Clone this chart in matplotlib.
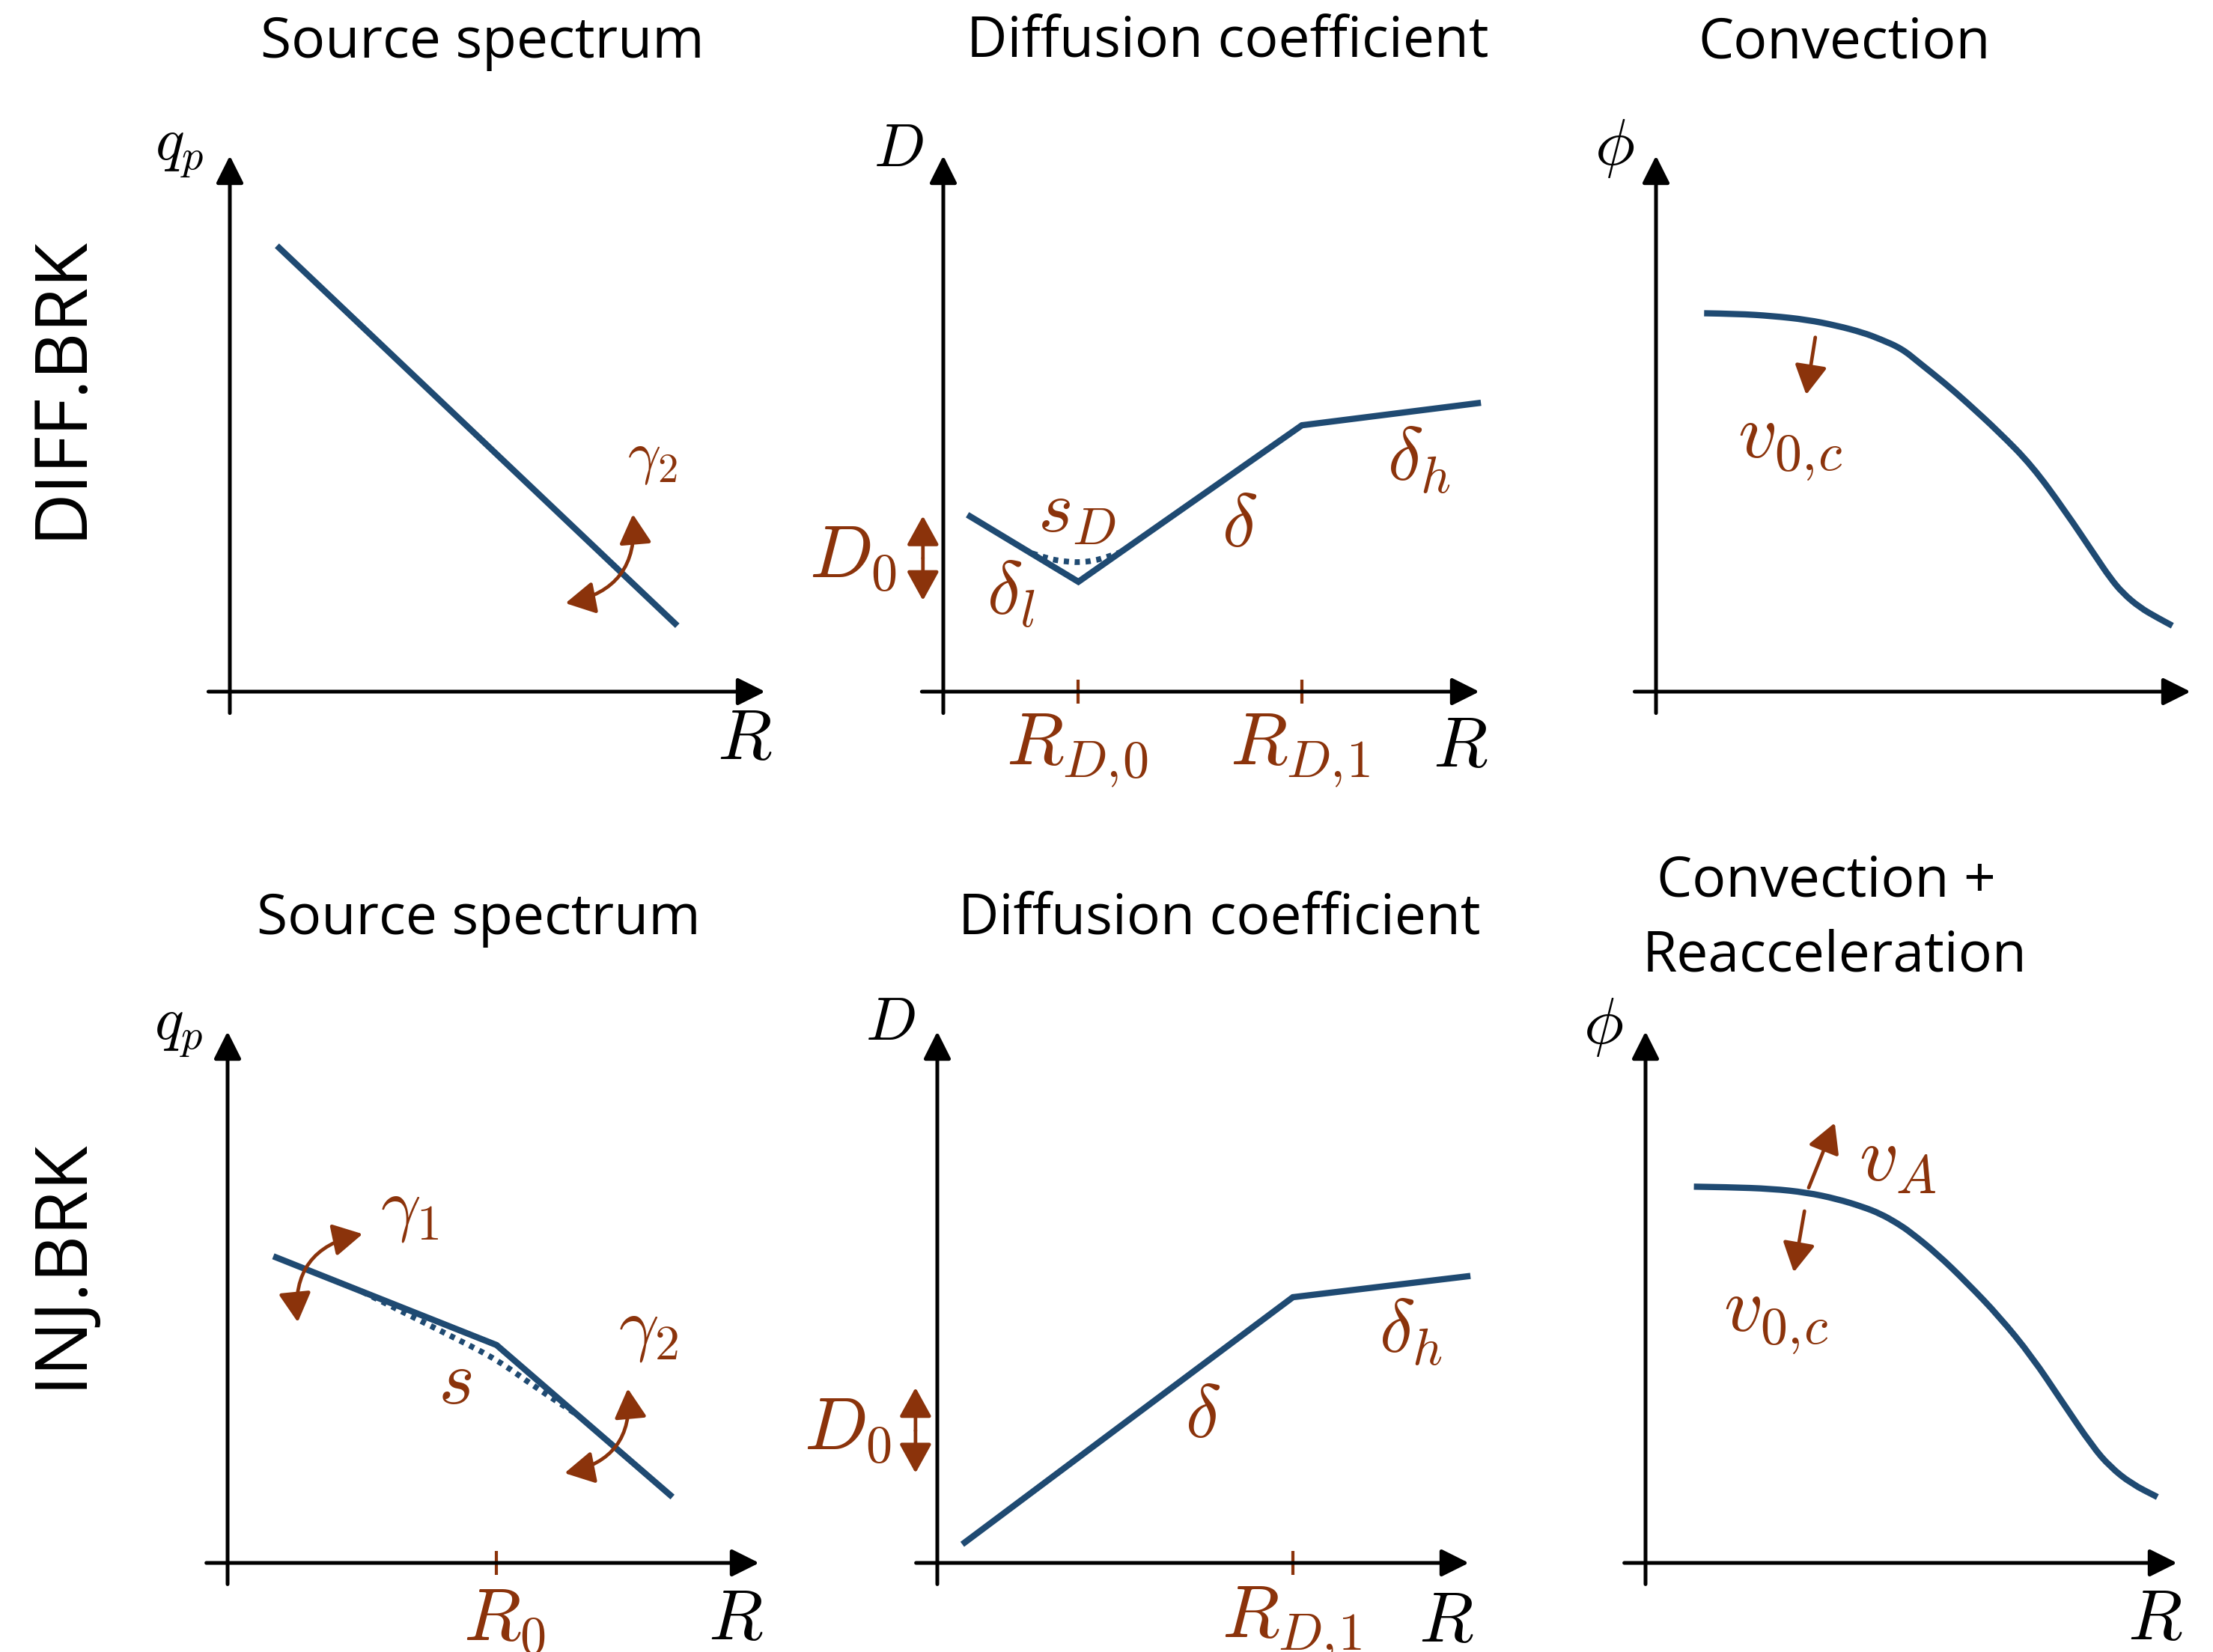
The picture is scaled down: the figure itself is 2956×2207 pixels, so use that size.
import matplotlib
matplotlib.use("Agg")
import matplotlib.pyplot as plt
from matplotlib.path import Path
from matplotlib.patches import PathPatch

# ---------------------------------------------------------------------------
# Schematic curves (arbitrary units, axes run from 0 to 10)
# ---------------------------------------------------------------------------
# DIFF.BRK: single power-law source spectrum
src1_R = [0.88, 8.36]
src1_q = [8.32, 1.23]

# INJ.BRK: broken source spectrum and its smoothed version
src2_R = [0.86, 5.06, 8.37]
src2_q = [5.77, 4.10, 1.24]
src2_smooth_R = [2.54, 3.50, 4.30, 5.06, 5.80, 6.59]
src2_smooth_q = [5.10, 4.62, 4.22, 3.83, 3.30, 2.78]

# DIFF.BRK: diffusion coefficient with low- and high-rigidity breaks
diff1_R = [0.45, 2.52, 6.69, 10.03]
diff1_D = [3.30, 2.05, 4.97, 5.39]
diff1_smooth_R = [1.66, 1.95, 2.25, 2.52, 2.80, 3.05, 3.30]
diff1_smooth_D = [2.58, 2.48, 2.43, 2.41, 2.44, 2.51, 2.60]

# INJ.BRK: diffusion coefficient with high-rigidity break only
diff2_R = [0.47, 6.69, 10.03]
diff2_D = [0.35, 5.00, 5.40]

# Solar modulation / convection curves
conv1_R = [0.90, 1.52, 2.17, 2.82, 3.38, 3.87, 4.19, 4.60, 4.92, 5.41,
           5.81, 6.42, 7.03, 7.64, 8.24, 8.49, 8.73, 9.05, 9.38, 9.66]
conv1_phi = [7.06, 7.05, 7.01, 6.94, 6.83, 6.70, 6.58, 6.40, 6.14, 5.75,
             5.40, 4.84, 4.22, 3.39, 2.50, 2.13, 1.84, 1.57, 1.38, 1.23]
conv2_R = [0.91, 1.56, 2.38, 3.03, 3.60, 4.09, 4.42, 4.74, 4.99, 5.48,
           6.05, 6.66, 7.27, 7.84, 8.41, 8.74, 9.14, 9.63]
conv2_phi = [7.08, 7.07, 7.04, 6.97, 6.85, 6.70, 6.57, 6.39, 6.22, 5.82,
             5.27, 4.63, 3.88, 3.03, 2.19, 1.81, 1.49, 1.24]

panel_titles = ["Source spectrum", "Diffusion coefficient", "Convection",
                "Source spectrum", "Diffusion coefficient"]
conv_reacc_title = ["Convection +", "Reacceleration"]
row_labels = ["DIFF.BRK", "INJ.BRK"]

# ---------------------------------------------------------------------------
plt.rcParams["mathtext.fontset"] = "cm"
plt.rcParams["font.family"] = ["Open Sans", "DejaVu Sans"]

W, H = 2956, 2207
BLUE = "#1f4a72"
BROWN = "#8b330b"
CURVE_LW = 6.0

fig = plt.figure(figsize=(W / 100, H / 100), dpi=100)


def make_panel(ox, oy, tx, ty):
    """Axes whose origin sits at pixel (ox, oy) and whose arrows end at (tx, ty)."""
    ax = fig.add_axes([ox / W, 1 - oy / H, (tx - ox) / W, (oy - ty) / H])
    ax.set_xlim(0, 10)
    ax.set_ylim(0, 10)
    ax.axis("off")
    axis_arrow = dict(arrowstyle="-|>,head_length=0.4,head_width=0.2",
                      mutation_scale=56, lw=3.6, color="black",
                      shrinkA=0, shrinkB=0)
    ax.annotate("", xy=(10, 0), xytext=(-0.40, 0), arrowprops=axis_arrow,
                annotation_clip=False)
    ax.annotate("", xy=(0, 10), xytext=(0, -0.40), arrowprops=axis_arrow,
                annotation_clip=False)
    return ax


def curve(ax, x, y):
    ax.plot(x, y, color=BLUE, lw=CURVE_LW, solid_joinstyle="miter",
            solid_capstyle="butt", clip_on=False)


def smooth_curve(ax, x, y, dotted=False):
    """Quadratic-Bezier path through the midpoints of the given points."""
    pts = list(zip(x, y))
    verts = [pts[0]]
    codes = [Path.MOVETO]
    for i in range(1, len(pts) - 1):
        mid = ((pts[i][0] + pts[i + 1][0]) / 2, (pts[i][1] + pts[i + 1][1]) / 2)
        verts += [pts[i], mid]
        codes += [Path.CURVE3, Path.CURVE3]
    verts.append(pts[-1])
    codes.append(Path.LINETO)
    style = (0, (0.9, 1.0)) if dotted else "solid"
    lw = 5.5 if dotted else CURVE_LW
    patch = PathPatch(Path(verts, codes), fill=False, edgecolor=BLUE, lw=lw,
                      linestyle=style, capstyle="butt", clip_on=False)
    ax.add_patch(patch)


def tick(ax, x):
    ax.plot([x, x], [-0.22, 0.22], color=BROWN, lw=3, clip_on=False,
            solid_capstyle="butt")


def label(ax, x, y, s, size, color=BROWN):
    ax.text(x, y, s, ha="center", va="center", fontsize=size, color=color,
            clip_on=False)


def brown_arrow(ax, start, end, style="-|>", rad=0.0):
    ax.annotate("", xy=end, xytext=start, annotation_clip=False,
                arrowprops=dict(arrowstyle=style + ",head_length=0.4,head_width=0.22",
                                mutation_scale=60, lw=3.4, color=BROWN,
                                shrinkA=0, shrinkB=0,
                                connectionstyle=f"arc3,rad={rad}"))


# --------------------------- top row: DIFF.BRK -----------------------------
ax1 = make_panel(307, 924, 1022, 208)
curve(ax1, src1_R, src1_q)
brown_arrow(ax1, (6.27, 1.65), (7.53, 3.31), style="<|-|>", rad=0.45)
label(ax1, 7.89, 4.38, r"$\gamma_2$", 56)
label(ax1, -0.94, 10.12, r"$q_p$", 58, "black")
label(ax1, 9.62, -0.92, r"$R$", 68, "black")

ax2 = make_panel(1260, 924, 1976, 208)
smooth_curve(ax2, diff1_smooth_R, diff1_smooth_D, dotted=True)
curve(ax2, diff1_R, diff1_D)
tick(ax2, diff1_R[1])
tick(ax2, diff1_R[2])
brown_arrow(ax2, (-0.38, 2.49), (-0.38, 3.28), style="-|>")
brown_arrow(ax2, (-0.38, 2.49), (-0.38, 1.70), style="-|>")
label(ax2, -1.69, 2.49, r"$D_0$", 72)
label(ax2, 1.26, 1.80, r"$\delta_l$", 72)
label(ax2, 2.50, 3.34, r"$s_D$", 72)
label(ax2, 5.52, 3.08, r"$\delta$", 72)
label(ax2, 8.87, 4.31, r"$\delta_h$", 72)
label(ax2, 2.50, -1.10, r"$R_{D,\!0}$", 72)
label(ax2, 6.65, -1.10, r"$R_{D,\!1}$", 72)
label(ax2, 9.64, -1.05, r"$R$", 68, "black")
label(ax2, -0.84, 10.10, r"$D$", 58, "black")

ax3 = make_panel(2212, 924, 2926, 208)
smooth_curve(ax3, conv1_R, conv1_phi)
brown_arrow(ax3, (2.98, 6.61), (2.81, 5.54))
label(ax3, 2.51, 4.63, r"$v_{0,\!c}$", 74)
label(ax3, -0.77, 10.16, r"$\phi$", 64, "black")

# --------------------------- bottom row: INJ.BRK --------------------------
ax4 = make_panel(304, 2088, 1014, 1378)
smooth_curve(ax4, src2_smooth_R, src2_smooth_q, dotted=True)
curve(ax4, src2_R, src2_q)
tick(ax4, src2_R[1])
brown_arrow(ax4, (1.32, 4.53), (2.54, 6.19), style="<|-|>", rad=-0.45)
brown_arrow(ax4, (6.34, 1.69), (7.53, 3.28), style="<|-|>", rad=0.45)
label(ax4, 3.43, 6.65, r"$\gamma_1$", 68)
label(ax4, 7.92, 4.40, r"$\gamma_2$", 68)
label(ax4, 4.27, 3.38, r"$s$", 74)
label(ax4, 5.21, -1.09, r"$R_0$", 72)
label(ax4, 9.56, -1.09, r"$R$", 68, "black")
label(ax4, -0.92, 10.05, r"$q_p$", 58, "black")

ax5 = make_panel(1252, 2088, 1962, 1378)
curve(ax5, diff2_R, diff2_D)
tick(ax5, diff2_R[1])
brown_arrow(ax5, (-0.41, 2.49), (-0.41, 3.30), style="-|>")
brown_arrow(ax5, (-0.41, 2.49), (-0.41, 1.69), style="-|>")
label(ax5, -1.69, 2.49, r"$D_0$", 72)
label(ax5, 5.00, 2.74, r"$\delta$", 72)
label(ax5, 8.90, 4.33, r"$\delta_h$", 72)
label(ax5, 6.66, -1.14, r"$R_{D,\!1}$", 72)
label(ax5, 9.58, -1.14, r"$R$", 68, "black")
label(ax5, -0.88, 10.15, r"$D$", 58, "black")

ax6 = make_panel(2198, 2088, 2908, 1378)
smooth_curve(ax6, conv2_R, conv2_phi)
brown_arrow(ax6, (3.07, 7.06), (3.56, 8.28))
brown_arrow(ax6, (2.99, 6.62), (2.79, 5.47))
label(ax6, 4.74, 7.56, r"$v_A$", 74)
label(ax6, 2.46, 4.63, r"$v_{0,\!c}$", 74)
label(ax6, -0.80, 10.10, r"$\phi$", 64, "black")
label(ax6, 9.59, -1.09, r"$R$", 68, "black")

# ------------------------------- titles ------------------------------------
title_pos = [(644, 77), (1640, 76), (2464, 77), (639, 1248), (1629, 1248)]
for text, (x, y) in zip(panel_titles, title_pos):
    fig.text(x / W, 1 - y / H, text, ha="center", va="baseline", fontsize=54)
fig.text(2439 / W, 1 - 1197 / H, conv_reacc_title[0], ha="center",
         va="baseline", fontsize=54)
fig.text(2451 / W, 1 - 1298 / H, conv_reacc_title[1], ha="center",
         va="baseline", fontsize=54)

fig.text(82 / W, 1 - 517 / H, row_labels[0], rotation=90, ha="center",
         va="center", fontsize=70)
fig.text(82 / W, 1 - 1688 / H, row_labels[1], rotation=90, ha="center",
         va="center", fontsize=70)

fig.savefig("out.png", dpi=100, facecolor="white")
